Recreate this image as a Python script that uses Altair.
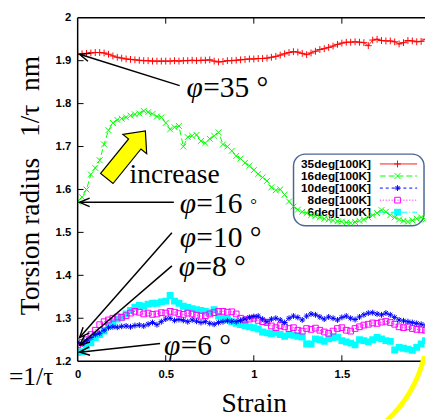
import math
import altair as alt
import pandas as pd

# ---------------- data ----------------
strain = [round(0.025 * i, 3) for i in range(80)]

r35 = [1.915, 1.916, 1.917, 1.918, 1.919, 1.919, 1.918, 1.915,
       1.911, 1.908, 1.906, 1.904, 1.903, 1.902, 1.901, 1.900,
       1.900, 1.899, 1.899, 1.899, 1.899, 1.899, 1.900, 1.899,
       1.900, 1.900, 1.901, 1.900, 1.901, 1.901, 1.902, 1.899,
       1.897, 1.898, 1.900, 1.900, 1.901, 1.902, 1.903, 1.904,
       1.904, 1.905, 1.905, 1.906, 1.908, 1.910, 1.913, 1.916,
       1.919, 1.921, 1.920, 1.917, 1.914, 1.918, 1.922, 1.926,
       1.928, 1.931, 1.934, 1.938, 1.941, 1.943, 1.943, 1.944,
       1.943, 1.942, 1.935, 1.948, 1.950, 1.947, 1.946, 1.946,
       1.944, 1.939, 1.942, 1.947, 1.946, 1.944, 1.945, 1.950]

r16 = [1.572, 1.582, 1.600, 1.635, 1.650, 1.668, 1.705, 1.738,
       1.755, 1.762, 1.765, 1.768, 1.772, 1.775, 1.777, 1.783,
       1.780, 1.776, 1.770, 1.768, 1.755, 1.740, 1.745, 1.748,
       1.700, 1.722, 1.725, 1.727, 1.713, 1.708, 1.718, 1.725,
       1.733, 1.705, 1.700, 1.690, 1.678, 1.672, 1.662, 1.655,
       1.645, 1.636, 1.628, 1.620, 1.605, 1.598, 1.600, 1.588,
       1.572, 1.560, 1.553, 1.548, 1.545, 1.540, 1.538, 1.535,
       1.532, 1.530, 1.528, 1.526, 1.525, 1.523, 1.522, 1.524,
       1.527, 1.530, 1.535, 1.540, 1.545, 1.552, 1.548, 1.540,
       1.535, 1.530, 1.527, 1.525, 1.528, 1.532, 1.535, 1.530]

r10 = [1.243, 1.240, 1.248, 1.255, 1.262, 1.265, 1.272, 1.278,
       1.280, 1.279, 1.281, 1.282, 1.280, 1.283, 1.284, 1.282,
       1.286, 1.290, 1.285, 1.292, 1.298, 1.300, 1.295, 1.297,
       1.295, 1.292, 1.296, 1.293, 1.290, 1.292, 1.288, 1.286,
       1.290, 1.292, 1.294, 1.293, 1.292, 1.295, 1.298, 1.302,
       1.304, 1.305, 1.298, 1.292, 1.298, 1.300, 1.296, 1.290,
       1.300, 1.305, 1.302, 1.296, 1.305, 1.310, 1.308, 1.303,
       1.298, 1.303, 1.300, 1.296, 1.302, 1.305, 1.300, 1.297,
       1.303, 1.308, 1.312, 1.313, 1.310, 1.308, 1.312, 1.308,
       1.302, 1.296, 1.294, 1.292, 1.290, 1.288, 1.286, 1.284]

r8 = [1.238, 1.244, 1.250, 1.262, 1.272, 1.285, 1.292, 1.296,
      1.300, 1.303, 1.302, 1.306, 1.312, 1.316, 1.314, 1.310,
      1.312, 1.309, 1.310, 1.313, 1.312, 1.316, 1.314, 1.311,
      1.309, 1.312, 1.310, 1.307, 1.305, 1.306, 1.310, 1.313,
      1.316, 1.316, 1.314, 1.315, 1.310, 1.300, 1.296, 1.298,
      1.300, 1.295, 1.292, 1.290, 1.282, 1.278, 1.283, 1.280,
      1.276, 1.278, 1.272, 1.270, 1.276, 1.274, 1.277, 1.272,
      1.268, 1.265, 1.270, 1.276, 1.278, 1.272, 1.270, 1.276,
      1.280, 1.284, 1.286, 1.289, 1.288, 1.291, 1.293, 1.290,
      1.286, 1.280, 1.278, 1.280, 1.276, 1.274, 1.273, 1.272]

r6 = [1.220, 1.222, 1.235, 1.243, 1.255, 1.262, 1.270, 1.282,
      1.290, 1.298, 1.303, 1.310, 1.318, 1.326, 1.330, 1.328,
      1.333, 1.335, 1.335, 1.338, 1.340, 1.353, 1.340, 1.335,
      1.328, 1.325, 1.322, 1.320, 1.318, 1.316, 1.313, 1.320,
      1.305, 1.300, 1.298, 1.292, 1.288, 1.285, 1.283, 1.280,
      1.278, 1.275, 1.268, 1.266, 1.264, 1.266, 1.262, 1.258,
      1.262, 1.260, 1.258, 1.256, 1.240, 1.240, 1.252, 1.250,
      1.246, 1.252, 1.255, 1.256, 1.248, 1.245, 1.242, 1.238,
      1.250, 1.248, 1.245, 1.250, 1.255, 1.252, 1.248, 1.246,
      1.226, 1.232, 1.230, 1.228, 1.225, 1.232, 1.240, 1.248]

labels = ["35deg[100K]", "16deg[100K]", "10deg[100K]", "8deg[100K]", "6deg[100K]"]
x_ticks = [0, 0.5, 1, 1.5]
y_ticks = [1.2, 1.3, 1.4, 1.5, 1.6, 1.7, 1.8, 1.9, 2.0]

# annotations (data coordinates)
ann_phi = ["φ", "φ", "φ", "φ", "φ"]
ann_rest = ["=35 °", "=16", "=10 °", "=8 °", "=6 °"]
ann_x = [0.618, 0.579, 0.579, 0.574, 0.490]
ann_y = [1.815, 1.545, 1.467, 1.399, 1.214]
arr_x = [0.579, 0.546, 0.535, 0.535, 0.468]   # tails
arr_y = [1.842, 1.570, 1.499, 1.422, 1.241]
tip_x = [0.011, 0.011, 0.011, 0.011, 0.011]   # heads
tip_y = [1.915, 1.570, 1.255, 1.237, 1.221]

# ---------------- styling ----------------
W, H = 354, 350
XMAX = 1.972
xs = alt.Scale(domain=[0, XMAX], nice=False, zero=False)
ys = alt.Scale(domain=[1.2, 2.0], nice=False, zero=False)
KX = W / XMAX
KY = H / 0.8
SERIF = "Liberation Serif, Times New Roman, serif"

lab = dict(labelFont="Liberation Sans", labelFontWeight="bold", labelFontSize=11.5,
           labelColor="black", domain=False, ticks=False, grid=False, labelFlush=False,
           title=None)
xaxis = alt.Axis(values=x_ticks, format="~g", labelPadding=8, **lab)
yaxis = alt.Axis(values=y_ticks, format="~g", labelPadding=7, **lab)
X = lambda f="x": alt.X(f"{f}:Q", scale=xs, axis=xaxis, title=None)
Y = lambda f="y": alt.Y(f"{f}:Q", scale=ys, axis=yaxis, title=None)

colors = ["#ff0000", "#00ff00", "#0000ff", "#ff00ff", "#00ffff"]
dashes = [[1, 0], [6, 3], [3, 3], [1, 2], [6, 2, 1, 2]]
PLUS = "M-1,0L1,0M0,-1L0,1"
XSH = "M-1,-1L1,1M-1,1L1,-1"
STAR = "M-1,0L1,0M0,-1L0,1M-0.7,-0.7L0.7,0.7M-0.7,0.7L0.7,-0.7"
shapes = [PLUS, XSH, STAR, "square", "square"]
filled = [False, False, False, False, True]
sizes = [49, 36, 36, 34, 49]
series = [r35, r16, r10, r8, r6]

dummy = pd.DataFrame({"a": [0]})
layers = []

# legend box and entries (drawn under the data, as in gnuplot)
layers.append(alt.Chart(dummy).mark_rect(cornerRadius=12, fill="white", stroke="#4a6794",
                                          strokeWidth=1.5).encode(
    x=alt.value(220), x2=alt.value(353), y=alt.value(139), y2=alt.value(212)))
for i in range(5):
    py = 149 + i * 12.3
    layers.append(alt.Chart(dummy).mark_text(align="right", baseline="middle",
                                             font="Liberation Sans", fontWeight="bold",
                                             fontSize=12, color="black").encode(
        x=alt.value(299), y=alt.value(py), text=alt.value(labels[i])))
    layers.append(alt.Chart(dummy).mark_rule(color=colors[i], strokeDash=dashes[i],
                                             strokeWidth=1).encode(
        x=alt.value(308), x2=alt.value(346), y=alt.value(py)))
    layers.append(alt.Chart(dummy).mark_point(shape=shapes[i], filled=filled[i], size=sizes[i],
                                              color=colors[i], strokeWidth=1, opacity=1).encode(
        x=alt.value(326), y=alt.value(py)))

# data series
for i in [4, 3, 2, 1, 0]:
    df = pd.DataFrame({"x": strain, "y": series[i]})
    layers.append(alt.Chart(df).mark_line(color=colors[i], strokeWidth=1,
                                          strokeDash=dashes[i], clip=True).encode(x=X(), y=Y()))
    layers.append(alt.Chart(df).mark_point(shape=shapes[i], filled=filled[i], size=sizes[i],
                                           color=colors[i], strokeWidth=1, opacity=1,
                                           clip=True).encode(x=X(), y=Y()))

# frame (left, bottom, top) and inward ticks
layers.append(alt.Chart(dummy).mark_rule(color="black", strokeWidth=1.5).encode(
    x=alt.value(0), y=alt.value(0), y2=alt.value(H)))
layers.append(alt.Chart(dummy).mark_rule(color="black", strokeWidth=1.5).encode(
    x=alt.value(0), x2=alt.value(W), y=alt.value(H)))
layers.append(alt.Chart(dummy).mark_rule(color="black", strokeWidth=1.5).encode(
    x=alt.value(0), x2=alt.value(W), y=alt.value(0)))
ytk = pd.DataFrame({"y": y_ticks[1:-1]})
layers.append(alt.Chart(ytk).mark_rule(color="black", strokeWidth=1).encode(
    x=alt.value(0), x2=alt.value(6), y=Y()))
xtk = pd.DataFrame({"x": x_ticks[1:]})
layers.append(alt.Chart(xtk).mark_rule(color="black", strokeWidth=1).encode(
    x=X(), y=alt.value(H), y2=alt.value(H - 6)))
layers.append(alt.Chart(xtk).mark_rule(color="black", strokeWidth=1).encode(
    x=X(), y=alt.value(0), y2=alt.value(6)))

# annotation arrows
angles = []
for tx, ty, hx, hy in zip(arr_x, arr_y, tip_x, tip_y):
    dx = (tx - hx) * KX
    dy = -(ty - hy) * KY
    angles.append(math.degrees(math.atan2(dy, dx)) % 360)
arr = pd.DataFrame({"x": arr_x, "y": arr_y, "x2": tip_x, "y2": tip_y, "ang": angles})
layers.append(alt.Chart(arr).mark_rule(color="black", strokeWidth=1.5).encode(
    x=X(), y=Y(), x2="x2:Q", y2="y2:Q"))
HEAD = "M1,-0.42L0,0L1,0.42"
layers.append(alt.Chart(arr).mark_point(shape=HEAD, size=420, filled=False, color="black",
                                        strokeWidth=1.5, opacity=1).encode(
    x=X("x2"), y=Y("y2"), angle=alt.Angle("ang:Q", scale=None)))

ann = pd.DataFrame({"x": ann_x, "y": ann_y, "phi": ann_phi, "rest": ann_rest})
layers.append(alt.Chart(ann).mark_text(align="left", baseline="alphabetic", font=SERIF,
                                       fontSize=30, fontStyle="italic", color="black").encode(
    x=X(), y=Y(), text="phi:N"))
layers.append(alt.Chart(ann).mark_text(align="left", baseline="alphabetic", font=SERIF,
                                       fontSize=30, dx=17, color="black").encode(
    x=X(), y=Y(), text="rest:N"))
# the small ring after "16"
ring = pd.DataFrame({"x": [0.579], "y": [1.545], "t": ["°"]})
layers.append(alt.Chart(ring).mark_text(align="left", baseline="alphabetic", font=SERIF,
                                        fontSize=17, dx=72, dy=-3, color="black").encode(
    x=X(), y=Y(), text="t:N"))

# "increase" with the fat yellow arrow
inc = pd.DataFrame({"x": [0.295], "y": [1.614], "t": ["increase"]})
layers.append(alt.Chart(inc).mark_text(align="left", baseline="alphabetic", font=SERIF,
                                       fontSize=28, color="black").encode(x=X(), y=Y(), text="t:N"))
ARROW = "M-1,-0.26L0.45,-0.26L0.45,-0.5L1,0L0.45,0.5L0.45,0.26L-1,0.26Z"
ya = pd.DataFrame({"x": [0.275], "y": [1.681]})
layers.append(alt.Chart(ya).mark_point(shape=ARROW, size=3900, angle=309, filled=True,
                                       fill="#ffff00", stroke="black", strokeWidth=1.2,
                                       opacity=1).encode(x=X(), y=Y()))

# axis titles and stray texts
layers.append(alt.Chart(dummy).mark_text(angle=270, align="center", baseline="middle",
                                         font=SERIF, fontSize=28, color="black").encode(
    x=alt.value(-47), y=alt.value(171),
    text=alt.value("Torsion radius\u00a0\u00a0\u00a01/τ\u00a0\u00a0nm")))
layers.append(alt.Chart(dummy).mark_text(align="center", baseline="alphabetic",
                                         font=SERIF, fontSize=28, color="black").encode(
    x=alt.value(180), y=alt.value(402), text=alt.value("Strain")))
layers.append(alt.Chart(dummy).mark_text(align="left", baseline="alphabetic",
                                         font=SERIF, fontSize=26, color="black").encode(
    x=alt.value(-70), y=alt.value(374), text=alt.value("=1/τ")))
layers.append(alt.Chart(dummy).mark_arc(color="#ffff00").encode(
    x=alt.value(222), y=alt.value(312), theta=alt.value(math.radians(104)),
    theta2=alt.value(math.radians(142)), radius=alt.value(138), radius2=alt.value(133)))

chart = alt.layer(*layers).properties(
    width=W, height=H,
    padding={"left": 71, "top": 6, "right": 0, "bottom": 55},
    autosize=alt.AutoSizeParams(type="none"),
    background="white",
).configure_view(stroke=None)

chart.save("out.html", embed_options={"renderer": "svg", "actions": False})
